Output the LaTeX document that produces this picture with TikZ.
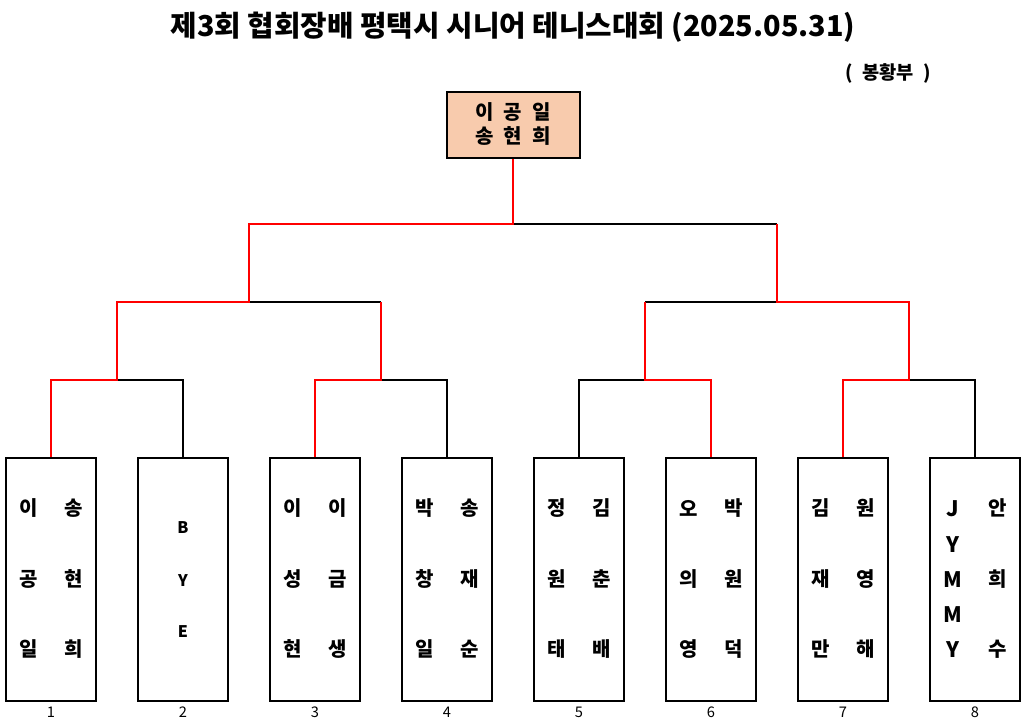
\documentclass[tikz,border=0pt]{standalone}
\usepackage{fontspec}
\newfontfamily\kr{Noto Sans CJK KR}
\definecolor{peach}{HTML}{F8CBAD}
\definecolor{rline}{HTML}{FF0000}
\newcommand{\widesp}{\spaceskip=7.5pt\relax}
\newcommand{\subsp}{\spaceskip=7pt\relax}
\tikzset{
  pbox/.style={draw=black, line width=1.5pt, minimum width=67.5pt, minimum height=182.25pt, inner sep=0pt},
  champbox/.style={draw=black, fill=peach, line width=1.5pt, minimum width=99.75pt, minimum height=49.5pt, inner sep=0pt, align=center,
     font=\kr\bfseries\fontsize{15}{18}\selectfont, execute at begin node=\widesp},
  nm/.style={font=\kr\bfseries\fontsize{15}{18}\selectfont, inner sep=0pt},
  byel/.style={font=\kr\bfseries\fontsize{12}{14}\selectfont, inner sep=0pt},
  latl/.style={font=\kr\bfseries\fontsize{16}{18}\selectfont, inner sep=0pt},
  numl/.style={font=\kr\fontsize{11}{13}\selectfont, inner sep=0pt},
  titlel/.style={font=\kr\bfseries\fontsize{21.6}{26}\selectfont, inner sep=0pt},
  subl/.style={font=\kr\bfseries\fontsize{14}{16}\selectfont, inner sep=0pt, execute at begin node=\subsp},
  bk/.style={draw=black, line width=1.1pt},
  rd/.style={draw=rline, line width=2pt},
}
\newcommand{\pbox}[8]{%
  \node[pbox] (b#1) at (#2,579.5) {};
  \node[nm] (b#1a) at (#2-22.5,508) {#3};
  \node[nm] (b#1b) at (#2-22.5,579) {#4};
  \node[nm] (b#1c) at (#2-22.5,649) {#5};
  \node[nm] (b#1d) at (#2+22.5,508) {#6};
  \node[nm] (b#1e) at (#2+22.5,579) {#7};
  \node[nm] (b#1f) at (#2+22.5,649) {#8};
  \node[numl] (n#1) at (#2,712) {#1};
}
\begin{document}
\begin{tikzpicture}[x=0.75pt,y=-0.75pt]
\useasboundingbox (0,0) rectangle (1025,725);
\fill[white] (0,0) rectangle (1025,725);

% title
\node[titlel] (title) at (513,27) {제3회 협회장배 평택시 시니어 테니스대회 (2025.05.31)};
\node[subl] (sub) at (888,73) {( 봉황부 )};

% champion
\node[champbox] (champ) at (513,124.5) {이 공 일\\송 현 희};

% players
\pbox{1}{51}{이}{공}{일}{송}{현}{희}
% box 2 (BYE)
\node[pbox] (b2) at (183,579.5) {};
\node[byel] (b2a) at (183,528) {B};
\node[byel] (b2b) at (183,581) {Y};
\node[byel] (b2c) at (183,632) {E};
\node[numl] (n2) at (183,712) {2};
\pbox{3}{315}{이}{성}{현}{이}{금}{생}
\pbox{4}{447}{박}{창}{일}{송}{재}{순}
\pbox{5}{579}{정}{원}{태}{김}{춘}{배}
\pbox{6}{711}{오}{의}{영}{박}{원}{덕}
\pbox{7}{843}{김}{재}{만}{원}{영}{해}
% box 8
\node[pbox] (b8) at (975,579.5) {};
\node[latl] (b8a) at (952.5,509) {J};
\node[latl] (b8b) at (952.5,545) {Y};
\node[latl] (b8c) at (952.5,580) {M};
\node[latl] (b8d) at (952.5,615) {M};
\node[latl] (b8e) at (952.5,650) {Y};
\node[nm] (b8f) at (997.5,508) {안};
\node[nm] (b8g) at (997.5,579) {희};
\node[nm] (b8h) at (997.5,649) {수};
\node[numl] (n8) at (975,712) {8};

% joints
\coordinate (m1) at (117,380);
\coordinate (m2) at (381,380);
\coordinate (m3) at (645,380);
\coordinate (m4) at (909,380);
\coordinate (s1) at (249,302);
\coordinate (s2) at (777,302);
\coordinate (f) at (513,224);

% black connectors
\draw[bk] (b2.north) |- (m1);
\draw[bk] (b4.north) |- (m2);
\draw[bk] (b5.north) |- (m3);
\draw[bk] (b8.north) |- (m4);
\draw[bk] (m2 |- s1) -- (s1);
\draw[bk] (m3 |- s2) -- (s2);
\draw[bk] (s2 |- f) -- (f);

% red (winner) connectors
\draw[rd] (b1.north) |- (m1) |- (s1) |- (f) -- (champ.south);
\draw[rd] (b3.north) |- (m2) -- (m2 |- s1);
\draw[rd] (b6.north) |- (m3) -- (m3 |- s2);
\draw[rd] (b7.north) |- (m4) |- (s2) -- (s2 |- f);
\end{tikzpicture}
\end{document}
